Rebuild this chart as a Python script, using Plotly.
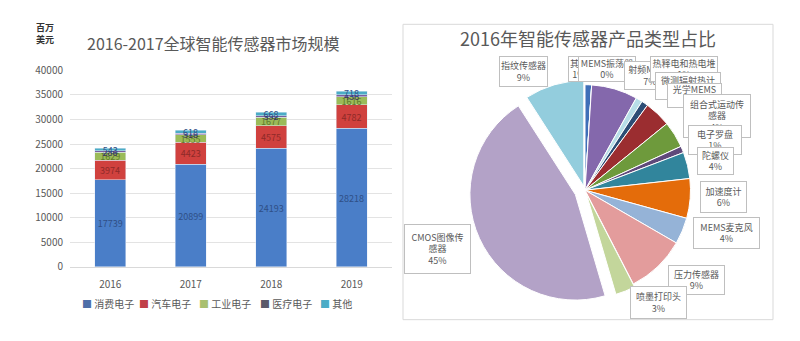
import plotly.graph_objects as go

# ---------------- data ----------------
years = ["2016", "2017", "2018", "2019"]
bar_series = ["消费电子", "汽车电子", "工业电子", "医疗电子", "其他"]
consumer = [17739, 20899, 24193, 28218]
automotive = [3974, 4423, 4575, 4782]
industrial = [1629, 1555, 1677, 1616]
medical = [286, 318, 352, 436]
others = [543, 618, 668, 718]

pie_names = ["其他", "MEMS振荡器", "射频MEMS", "热释电和热电堆", "微测辐射热计", "光学MEMS",
             "组合式运动传感器", "电子罗盘", "陀螺仪", "加速度计", "MEMS麦克风", "压力传感器",
             "喷墨打印头", "CMOS图像传感器", "指纹传感器"]
pie_values = [1, 0, 7, 1, 1, 4, 4, 1, 4, 6, 4, 9, 3, 45, 9]

# ---------------- styles ----------------
W, H = 800, 341
FONT = "Noto Sans CJK SC"
GRAY = "#595959"
bar_colors = ["#4A7EC8", "#D0413E", "#9BBB59", "#7A5FA0", "#4BACC6"]
bar_text_colors = ["#2F4F86", "#8E2A28", "#5E7A2A", "#3C3060", "#2F4F86"]
legend_colors = ["#4F6FA8", "#C0404A", "#A8C070", "#5A5A6A", "#4BACC6"]
legend_x = [80, 137, 197, 258, 318]
pie_colors = ["#3F6FB8", "#C0504D", "#8468AC", "#B7DEE8", "#2C4D75", "#9B2D30",
              "#6E9A3C", "#5F497A", "#31859C", "#E46C0A", "#95B3D7", "#E39C9C",
              "#C3D69B", "#B3A2C7", "#93CDDD"]
pie_pull = [0, 0, 0, 0, 0, 0, 0, 0, 0, 0, 0, 0, 0.03, 0.1, 0.04]
# label boxes in pixels (x0, y0, x1, y1) and chars per line
pie_boxes = [(568, 50, 590, 76), (578, 50, 636, 76), (624, 55, 676, 84), (650, 50, 718, 76),
             (655, 67, 721, 95), (667, 78, 722, 103), (683, 90, 751, 134), (688, 122, 742, 152),
             (697, 145, 734, 173), (700, 180, 747, 212), (693, 218, 760, 250), (668, 268, 725, 298),
             (630, 290, 687, 323), (404, 225, 471, 275), (499, 50, 548, 81)]
pie_wrap = [99, 99, 99, 99, 99, 99, 6, 99, 99, 99, 99, 99, 99, 7, 99]


def px(x):
    return x / W


def py(y):
    return 1 - y / H


fig = go.Figure()

series_vals = [consumer, automotive, industrial, medical, others]
for name, vals, col, tcol in zip(bar_series, series_vals, bar_colors, bar_text_colors):
    fig.add_trace(go.Bar(
        x=years, y=vals, name=name, marker=dict(color=col),
        text=[str(v) for v in vals], textposition="inside", insidetextanchor="middle",
        textangle=0, textfont=dict(size=10, color=tcol, family=FONT),
        width=0.39, xaxis="x", yaxis="y", showlegend=False,
    ))

total = sum(pie_values)
R = 121
fig.add_trace(go.Pie(
    labels=pie_names, values=pie_values, sort=False, direction="clockwise", rotation=0,
    marker=dict(colors=pie_colors, line=dict(color="white", width=1)),
    pull=pie_pull, textinfo="none", hoverinfo="label+percent", showlegend=False,
    domain=dict(x=[px(585 - R), px(585 + R)], y=[py(190 + R), py(190 - R)]),
))

annotations = []
# left unit + title
annotations.append(dict(x=px(45), y=py(27), xref="paper", yref="paper", text="<b>百万<br>美元</b>",
                        showarrow=False, font=dict(size=9, color="#333333", family=FONT),
                        xanchor="center", yanchor="middle"))
annotations.append(dict(x=px(85), y=py(37), xref="paper", yref="paper",
                        text="2016-2017全球智能传感器市场规模", showarrow=False,
                        font=dict(size=16, color=GRAY, family=FONT), xanchor="left", yanchor="middle"))
annotations.append(dict(x=px(588), y=py(31), xref="paper", yref="paper",
                        text="2016年智能传感器产品类型占比", showarrow=False,
                        font=dict(size=18, color=GRAY, family=FONT), xanchor="center", yanchor="middle"))

# manual legend for the bar chart
for name, col, lx in zip(bar_series, legend_colors, legend_x):
    annotations.append(dict(x=px(lx), y=py(308), xref="paper", yref="paper", xanchor="left",
                            yanchor="middle", showarrow=False,
                            text=f"<span style='color:{col}'>■</span> {name}",
                            font=dict(size=10, color=GRAY, family=FONT)))


def wrap(s, n):
    return "<br>".join(s[i:i + n] for i in range(0, len(s), n))


for name, v, box, n in zip(pie_names, pie_values, pie_boxes, pie_wrap):
    x0, y0, x1, y1 = box
    pct = round(v / total * 100)
    annotations.append(dict(
        x=px(x0), y=py(y0), xref="paper", yref="paper", xanchor="left", yanchor="top",
        text=f"{wrap(name, n)}<br>{pct}%", showarrow=False,
        width=x1 - x0 - 2, height=y1 - y0 - 2, bgcolor="white", bordercolor="#BFBFBF",
        borderwidth=1, borderpad=0, align="center", valign="middle",
        font=dict(size=9, color=GRAY, family=FONT),
    ))

shapes = [dict(type="rect", xref="paper", yref="paper", x0=px(403), x1=px(773), y0=py(325), y1=py(17),
               line=dict(color="#D9D9D9", width=1), layer="below")]

fig.update_layout(
    width=W, height=H, margin=dict(l=0, r=0, t=0, b=0),
    paper_bgcolor="white", plot_bgcolor="white",
    barmode="stack", bargap=0.6, showlegend=False,
    font=dict(family=FONT, color=GRAY, size=10),
    uniformtext=dict(minsize=9, mode="show"),
    xaxis=dict(domain=[px(70), px(392)], showline=True, linecolor="#D9D9D9", ticks="",
               tickfont=dict(size=10, color=GRAY), showgrid=False, ticklabelstandoff=8),
    yaxis=dict(domain=[py(270), py(65)], range=[0, 40000], dtick=5000, tickformat="d",
               gridcolor="#E3E3E3", showline=False, zeroline=False, ticks="",
               tickfont=dict(size=10, color=GRAY), ticklabelstandoff=6),
    annotations=annotations, shapes=shapes,
)

fig.write_html("out.html")
